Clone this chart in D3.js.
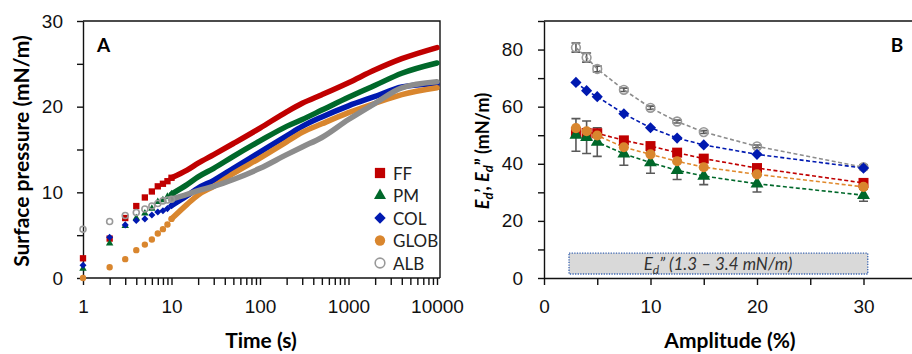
<!DOCTYPE html>
<html>
  <head>
	<title>Surface pressure and dilatational modulus</title>
	<script src="https://d3js.org/d3.v7.min.js"></script>
	<style>
		body { margin: 0; background: #fff; }
		svg { font-family: Lato, "Open Sans", sans-serif; }
		.tick text { font-size: 19px; fill: #111; }
		.axis path, .axis line { stroke: #111; stroke-width: 1.4; }
	</style>
  </head>
  <body>
	<svg id="chart" width="912" height="354"></svg>
    <script type="text/javascript">
		// Panel A: adsorption kinetics
		const timeA = [1, 2, 3, 4, 5, 6, 7, 8, 9, 10, 15, 20, 30, 50, 100, 200, 300, 500, 1000, 2000, 4000, 10000];
		const ffA   = [2.3, 4.6, 7.0, 8.4, 9.4, 10.1, 10.7, 11.0, 11.3, 11.7, 12.6, 13.4, 14.4, 15.7, 17.5, 19.4, 20.4, 21.4, 22.8, 24.3, 25.6, 26.9];
		const pmA   = [1.1, 4.05, 6.1, 7.0, 7.55, 8.1, 8.9, 9.1, 9.5, 9.8, 10.9, 11.8, 12.8, 14.2, 16.0, 17.7, 18.5, 19.6, 21.1, 22.5, 23.9, 25.1];
		const colA  = [1.5, 4.75, 6.2, 6.7, 6.9, 7.35, 7.7, 7.85, 8.1, 8.45, 9.6, 10.5, 11.4, 12.8, 14.7, 16.6, 17.7, 18.8, 20.1, 21.2, 22.3, 22.7];
		const globA = [0, 1.25, 2.2, 3.25, 3.9, 4.5, 5.2, 5.7, 6.25, 6.9, 8.6, 9.7, 10.7, 12.2, 14.0, 15.9, 17.0, 18.0, 19.3, 20.4, 21.4, 22.2];
		const albA  = [5.7, 6.6, 7.3, 7.65, 8.05, 8.4, 8.7, 9.0, 9.1, 9.2, 9.75, 10.2, 10.7, 11.5, 12.8, 14.4, 15.3, 16.4, 18.5, 20.4, 22.2, 22.9];

		// Panel B: modulus vs amplitude
		const ampB  = [3, 4, 5, 7.5, 10, 12.5, 15, 20, 30];
		const ffB   = [51.1, 50.8, 50.7, 48.2, 46.2, 43.9, 41.8, 38.5, 33.3];
		const pmB   = [50.1, 49.3, 47.6, 43.5, 40.4, 37.7, 35.7, 33.0, 29.0];
		const colB  = [68.5, 65.6, 63.5, 57.5, 52.6, 49.0, 46.6, 43.3, 38.5];
		const globB = [52.5, 51.4, 49.9, 45.8, 43.3, 40.9, 38.8, 36.3, 31.9];
		const albB  = [80.7, 77.2, 73.2, 65.9, 59.6, 54.8, 51.1, 46.1, 38.8];
		const pmErr  = [5.7, 5.7, 5.0, 4.0, 3.7, 3.2, 3.0, 2.9, 2.1];
		const albErr = [1.6, 1.6, 1.0, 0.6, 0.6, 0.5, 0.5, 0.5, 0.8];

		const names = ["FF", "PM", "COL", "GLOB", "ALB"];
		const colors = ["#c00000", "#00682a", "#0019b0", "#d9862e", "#8c8c8c"];

		var svg = d3.select("#chart");

		// marker path for a series index and a base size
		function marker(i, s) {
			var types = [d3.symbolSquare, d3.symbolTriangle, d3.symbolSquare, d3.symbolCircle, d3.symbolCircle];
			var scaleF = [1, 0.6, 0.62, 0.8, 0.7];
			return d3.symbol().type(types[i]).size(s * scaleF[i])();
		}
		function styleMarker(sel, i) {
			if (i === 4) {
				sel.attr("fill", "none").attr("stroke", "#999").attr("stroke-width", 1.6);
			} else {
				sel.attr("fill", colors[i]);
			}
			return sel;
		}
		function markerTransform(i, x, y) {
			return "translate(" + x + "," + y + ")" + (i === 2 ? " rotate(45)" : "");
		}

		//---------------- Panel A ----------------
		var a = {left: 83, right: 440, top: 21, bottom: 278};
		var xA = d3.scaleLog().domain([1, 10000]).range([a.left, 437]);
		var yA = d3.scaleLinear().domain([0, 30]).range([a.bottom, a.top]);

		svg.append("g")
			.attr("class", "axis")
			.attr("transform", "translate(" + a.left + ",0)")
			.call(d3.axisLeft(yA).tickValues(d3.range(0, 31, 5)).tickSize(6).tickSizeOuter(0).tickPadding(14)
				.tickFormat(function(d) { return d % 10 === 0 ? d : ""; }));

		var xAxisA = svg.append("g")
			.attr("class", "axis")
			.attr("transform", "translate(0," + a.bottom + ")")
			.call(d3.axisBottom(xA).tickSize(7).tickSizeOuter(0).tickPadding(15)
				.tickFormat(function(d) { return [1, 10, 100, 1000, 10000].indexOf(d) >= 0 ? d : ""; }));
		xAxisA.select(".domain").attr("d", "M" + a.left + ",0H" + a.right);

		// frame
		svg.append("path")
			.attr("d", "M" + a.left + "," + a.top + "H" + a.right + "V" + a.bottom)
			.attr("fill", "none").attr("stroke", "#111").attr("stroke-width", 1.4);

		var seriesA = [ffA, pmA, colA, globA, albA];
		var bandLine = d3.line()
			.curve(d3.curveMonotoneX)
			.x(function(d) { return xA(d[0]); })
			.y(function(d) { return yA(d[1]); });

		seriesA.forEach(function(vals, i) {
			var pts = timeA.map(function(t, j) { return [t, vals[j]]; });
			var g = svg.append("g").attr("class", "seriesA");
			// dense part of the recording drawn as a thick band
			g.append("path")
				.datum(pts.filter(function(p) { return p[0] >= 10; }))
				.attr("d", bandLine)
				.attr("fill", "none")
				.attr("stroke", i === 4 ? "#8c8c8c" : colors[i])
				.attr("stroke-width", 5.5)
				.attr("stroke-linecap", "round");
			// single readings at the first seconds
			g.selectAll(".pt")
			  .data(pts.filter(function(p) { return p[0] <= 10; }))
			  .enter().append("path")
				.attr("class", "pt")
				.attr("d", marker(i, 40))
				.attr("transform", function(p) { return markerTransform(i, xA(p[0]), yA(p[1])); })
				.call(styleMarker, i);
		});

		svg.append("text")
			.attr("x", 97).attr("y", 52)
			.attr("font-size", 19).attr("font-weight", "bold")
			.text("A");

		// legend
		var legend = svg.append("g").attr("transform", "translate(380,173)");
		names.forEach(function(n, i) {
			var row = legend.append("g").attr("transform", "translate(0," + (i * 22.5) + ")");
			row.append("path")
				.attr("d", marker(i, 105))
				.attr("transform", i === 2 ? "rotate(45)" : null)
				.call(styleMarker, i);
			row.append("text")
				.attr("x", 13).attr("y", 6.5)
				.attr("font-size", 17).attr("fill", "#222")
				.text(n);
		});

		svg.append("text")
			.attr("transform", "translate(29,151) rotate(-90)")
			.attr("text-anchor", "middle")
			.attr("font-size", 21).attr("font-weight", "bold")
			.text("Surface pressure (mN/m)");
		svg.append("text")
			.attr("x", 261).attr("y", 348)
			.attr("text-anchor", "middle")
			.attr("font-size", 21).attr("font-weight", "bold")
			.text("Time (s)");

		//---------------- Panel B ----------------
		var b = {left: 544, top: 21, bottom: 278};
		var xB = d3.scaleLinear().domain([0, 35]).range([b.left, b.left + 35 * 10.65]);
		var yB = d3.scaleLinear().domain([0, 90]).range([b.bottom, b.top]);

		svg.append("g")
			.attr("class", "axis")
			.attr("transform", "translate(" + b.left + ",0)")
			.call(d3.axisLeft(yB).tickValues(d3.range(0, 91, 10)).tickSize(6).tickSizeOuter(0).tickPadding(15)
				.tickFormat(function(d) { return d % 20 === 0 && d < 90 ? d : ""; }));

		svg.append("g")
			.attr("class", "axis")
			.attr("transform", "translate(0," + b.bottom + ")")
			.call(d3.axisBottom(xB).tickValues(d3.range(0, 31, 5)).tickSize(7).tickSizeOuter(0).tickPadding(15)
				.tickFormat(function(d) { return d % 10 === 0 ? d : ""; }));

		svg.append("path")
			.attr("d", "M" + b.left + "," + b.top + "H912")
			.attr("fill", "none").attr("stroke", "#111").attr("stroke-width", 1.4);

		// loss modulus band
		svg.append("rect")
			.attr("x", xB(2.35)).attr("y", yB(8.7))
			.attr("width", xB(30.4) - xB(2.35)).attr("height", yB(1.4) - yB(8.7))
			.attr("fill", "#d9d9d9")
			.attr("stroke", "#3a64b0").attr("stroke-width", 1.3).attr("stroke-dasharray", "1.3,1.3");
		var boxText = svg.append("text")
			.attr("x", 718).attr("y", 270)
			.attr("text-anchor", "middle")
			.attr("font-size", 17).attr("font-style", "italic").attr("fill", "#333");
		boxText.append("tspan").text("E");
		boxText.append("tspan").attr("font-size", 12).attr("dy", 4).text("d");
		boxText.append("tspan").attr("dy", -4).text("\u201D (1.3 \u2013 3.4 mN/m)");

		// error bars
		function errorBars(vals, errs) {
			var g = svg.append("g")
				.attr("stroke", "#595959").attr("stroke-width", 1.6).attr("fill", "none");
			ampB.forEach(function(x, j) {
				var px = xB(x), lo = yB(vals[j] - errs[j]), hi = yB(vals[j] + errs[j]);
				g.append("path")
					.attr("d", "M" + px + "," + lo + "V" + hi +
						"M" + (px - 4.5) + "," + lo + "h9" +
						"M" + (px - 4.5) + "," + hi + "h9");
			});
		}
		errorBars(pmB, pmErr);
		errorBars(albB, albErr);

		var dashLine = d3.line()
			.x(function(d) { return xB(d[0]); })
			.y(function(d) { return yB(d[1]); });
		var seriesB = [ffB, pmB, colB, globB, albB];
		var orderB = [4, 2, 0, 1, 3];
		orderB.forEach(function(i) {
			var pts = ampB.map(function(x, j) { return [x, seriesB[i][j]]; });
			svg.append("path")
				.datum(pts)
				.attr("d", dashLine)
				.attr("fill", "none")
				.attr("stroke", i === 3 ? "#e0892c" : colors[i])
				.attr("stroke-width", 1.6)
				.attr("stroke-dasharray", "4,2.5");
		});
		orderB.forEach(function(i) {
			var pts = ampB.map(function(x, j) { return [x, seriesB[i][j]]; });
			svg.append("g").selectAll("path")
			  .data(pts)
			  .enter().append("path")
				.attr("d", marker(i, i === 4 ? 85 : (i === 1 ? 120 : 100)))
				.attr("transform", function(p) { return markerTransform(i, xB(p[0]), yB(p[1])); })
				.call(styleMarker, i);
		});

		svg.append("text")
			.attr("x", 897).attr("y", 52)
			.attr("text-anchor", "middle")
			.attr("font-size", 19).attr("font-weight", "bold")
			.text("B");

		var yTitleB = svg.append("text")
			.attr("transform", "translate(489,151) rotate(-90)")
			.attr("text-anchor", "middle")
			.attr("font-size", 18).attr("font-weight", "bold");
		yTitleB.append("tspan").attr("font-style", "italic").text("E");
		yTitleB.append("tspan").attr("font-style", "italic").attr("font-size", 13).attr("dy", 4).text("d");
		yTitleB.append("tspan").attr("dy", -4).text("\u2019, ");
		yTitleB.append("tspan").attr("font-style", "italic").text("E");
		yTitleB.append("tspan").attr("font-style", "italic").attr("font-size", 13).attr("dy", 4).text("d");
		yTitleB.append("tspan").attr("dy", -4).text("\u201D (mN/m)");

		svg.append("text")
			.attr("x", 730).attr("y", 348)
			.attr("text-anchor", "middle")
			.attr("font-size", 21).attr("font-weight", "bold")
			.text("Amplitude (%)");
	</script>
  </body>
</html>
